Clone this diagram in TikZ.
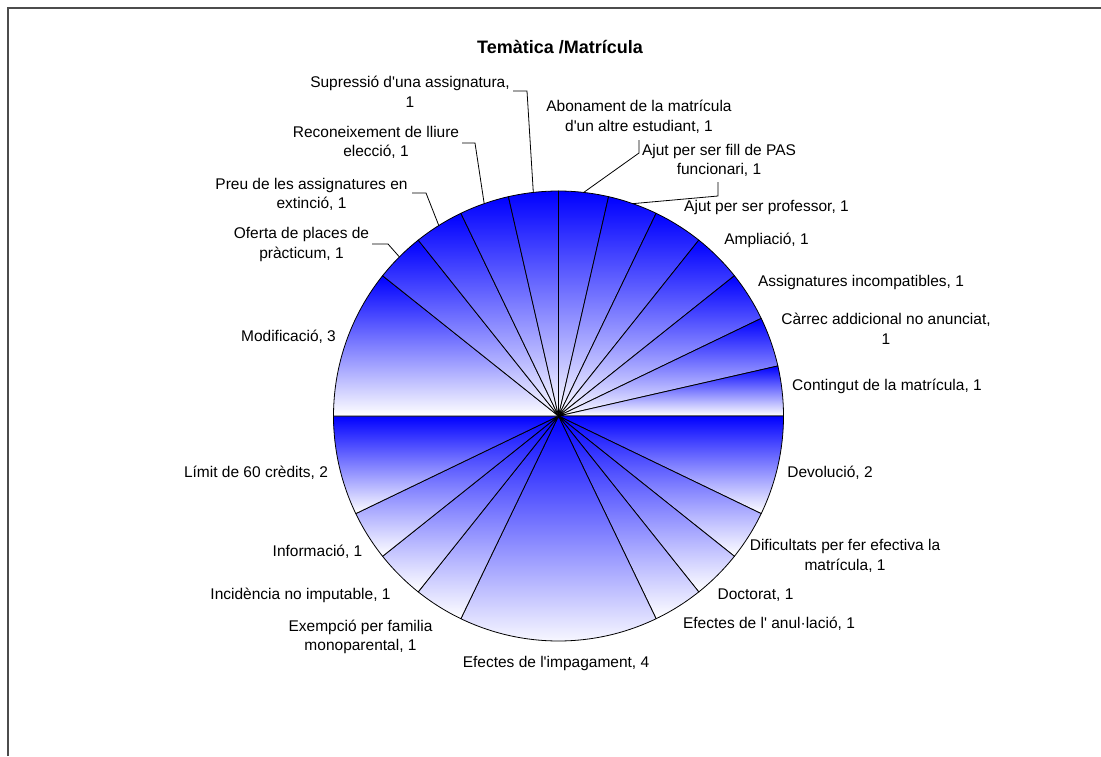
\documentclass[tikz,border=0pt]{standalone}
\usepackage{fontspec}
\setmainfont{Liberation Sans}
\newfontfamily\plainsans{Liberation Sans}
\usetikzlibrary{calc}
\begin{document}
\begin{tikzpicture}[x=1pt,y=1pt,
  lbl/.style={font=\plainsans\fontsize{15.5}{19.5}\selectfont, align=center, inner sep=0pt},
  slice/.style={draw=black, line width=0.8pt, top color=blue, bottom color=white},
  leader/.style={draw=black, line width=0.8pt},
  frameline/.style={draw=black!70, line width=2pt}]
\useasboundingbox (0,0) rectangle (1101,-756);
\fill[white] (0,0) rectangle (1101,-756);
\draw[frameline] (7.5,-756) -- (7.5,-7.5) -- (1101,-7.5);
\node[font=\plainsans\bfseries\fontsize{18}{22}\selectfont, inner sep=0pt] (title) at (560,-47) {Temàtica /Matrícula};
\coordinate (C) at (558.5,-416);
\foreach \a/\b in {90/77.1429, 77.1429/64.2857, 64.2857/51.4286, 51.4286/38.5714,
  38.5714/25.7143, 25.7143/12.8571, 12.8571/0, 0/-25.7143, -25.7143/-38.5714,
  -38.5714/-51.4286, -51.4286/-64.2857, -64.2857/-115.7143, -115.7143/-128.5714,
  -128.5714/-141.4286, -141.4286/-154.2857, -154.2857/-180, 180/141.4286,
  141.4286/128.5714, 128.5714/115.7143, 115.7143/102.8571, 102.8571/90} {
  \path[slice] (C) -- ($(C)+(\a:225)$) arc[start angle=\a, end angle=\b, radius=225] -- cycle;
}
% labels
\node[lbl] (lAbo) at (639,-117) {Abonament de la matrícula\\d'un altre estudiant, 1};
\node[lbl] (lFil) at (719,-160.5) {Ajut per ser fill de PAS\\funcionari, 1};
\node[lbl] (lPro) at (766.5,-207) {Ajut per ser professor, 1};
\node[lbl] (lAmp) at (766.5,-240) {Ampliació, 1};
\node[lbl] (lAss) at (861,-282) {Assignatures incompatibles, 1};
\node[lbl] (lCar) at (886,-329) {Càrrec addicional no anunciat,\\1};
\node[lbl] (lCon) at (887,-386) {Contingut de la matrícula, 1};
\node[lbl] (lDev) at (830,-473) {Devolució, 2};
\node[lbl] (lDif) at (845,-556) {Dificultats per fer efectiva la\\matrícula, 1};
\node[lbl] (lDoc) at (755.5,-595) {Doctorat, 1};
\node[lbl] (lAnu) at (769,-624) {Efectes de l' anul·lació, 1};
\node[lbl] (lImp) at (556,-663) {Efectes de l'impagament, 4};
\node[lbl] (lExe) at (360.5,-637) {Exempció per familia\\monoparental, 1};
\node[lbl] (lInc) at (300.5,-595) {Incidència no imputable, 1};
\node[lbl] (lInf) at (317.5,-552) {Informació, 1};
\node[lbl] (lLim) at (256,-473) {Límit de 60 crèdits, 2};
\node[lbl] (lMod) at (288.5,-337) {Modificació, 3};
\node[lbl] (lOfe) at (301.5,-244.5) {Oferta de places de\\pràcticum, 1};
\node[lbl] (lPre) at (311.5,-194.5) {Preu de les assignatures en\\extinció, 1};
\node[lbl] (lRec) at (376,-142.5) {Reconeixement de lliure\\elecció, 1};
\node[lbl] (lSup) at (410,-92) {Supressió d'una assignatura,\\1};
% leader points
\coordinate (eSup) at ($(C)+(96.4286:225)$);
\coordinate (eRec) at ($(C)+(109.2857:225)$);
\coordinate (ePre) at ($(C)+(122.1429:225)$);
\coordinate (eOfe) at ($(C)+(135:225)$);
\coordinate (eAbo) at ($(C)+(83.5714:225)$);
\coordinate (eFil) at ($(C)+(70.7143:225)$);
\coordinate (sSup) at (513,-91);  \coordinate (kSup) at (527,-91);
\coordinate (sRec) at (462,-143); \coordinate (kRec) at (475,-143);
\coordinate (sPre) at (412,-193); \coordinate (kPre) at (426,-193);
\coordinate (sOfe) at (372,-244); \coordinate (kOfe) at (388,-244);
\coordinate (tAbo) at (639,-140); \coordinate (kAbo) at (639,-153);
\coordinate (tFil) at (718,-182); \coordinate (kFil) at (718,-196);
\draw[leader] (sSup) -- (kSup) -- (eSup);
\draw[leader] (sRec) -- (kRec) -- (eRec);
\draw[leader] (sPre) -- (kPre) -- (ePre);
\draw[leader] (sOfe) -- (kOfe) -- (eOfe);
\draw[leader] (tAbo) -- (kAbo) -- (eAbo);
\draw[leader] (tFil) -- (kFil) -- (eFil);
\end{tikzpicture}
\end{document}
